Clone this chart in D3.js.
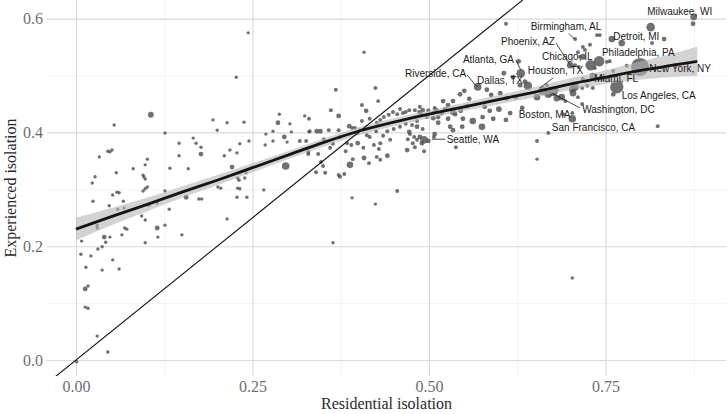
<!DOCTYPE html>
<html><head><meta charset="utf-8">
<script src="https://cdn.jsdelivr.net/npm/d3@7"></script>
<style>body{margin:0;background:#fff}svg{display:block}</style>
</head><body><svg id="c" width="728" height="414"></svg>
<script>
// ---- data ----
const residential = [
0.001,0.008,0.007,0.014,0.021,0.013,0.017,0.013,0.017,0.030,
0.045,0.037,0.052,0.061,0.031,0.037,0.040,0.042,0.048,0.030,
0.030,0.047,0.024,0.065,0.069,0.072,0.098,0.093,0.098,0.115,
0.116,0.126,0.132,0.150,0.214,0.059,0.068,0.103,0.115,0.106,
0.054,0.126,0.146,0.146,0.159,0.045,0.048,0.051,0.033,0.101,
0.098,0.081,0.057,0.133,0.027,0.023,0.095,0.096,0.098,0.101,
0.098,0.095,0.058,0.061,0.052,0.067,0.126,0.156,0.244,0.227,
0.194,0.200,0.214,0.238,0.166,0.170,0.177,0.232,0.245,0.218,
0.177,0.210,0.228,0.221,0.231,0.241,0.229,0.231,0.239,0.229,
0.232,0.201,0.205,0.174,0.178,0.228,0.242,0.288,0.324,0.286,
0.303,0.269,0.279,0.305,0.295,0.279,0.299,0.268,0.330,0.266,
0.297,0.329,0.408,0.368,0.424,0.428,0.361,0.405,0.411,0.372,
0.330,0.449,0.459,0.455,0.463,0.467,0.472,0.480,0.487,0.491,
0.486,0.489,0.499,0.508,0.506,0.497,0.436,0.443,0.431,0.426,
0.416,0.405,0.513,0.483,0.476,0.467,0.483,0.491,0.331,0.341,
0.346,0.358,0.372,0.387,0.391,0.395,0.402,0.399,0.441,0.450,
0.459,0.425,0.412,0.416,0.374,0.351,0.364,0.384,0.399,0.435,
0.431,0.422,0.445,0.473,0.479,0.483,0.470,0.480,0.477,0.493,
0.487,0.499,0.490,0.326,0.317,0.343,0.329,0.360,0.390,0.382,
0.407,0.429,0.469,0.408,0.392,0.426,0.441,0.431,0.415,0.388,
0.347,0.350,0.340,0.372,0.374,0.380,0.353,0.455,0.391,0.424,
0.364,0.493,0.508,0.472,0.506,0.510,0.513,0.518,0.520,0.523,
0.527,0.527,0.530,0.534,0.534,0.534,0.537,0.544,0.545,0.548,
0.550,0.554,0.557,0.562,0.569,0.576,0.579,0.582,0.586,0.588,
0.591,0.599,0.601,0.606,0.609,0.610,0.615,0.619,0.623,0.627,
0.629,0.630,0.632,0.636,0.640,0.653,0.661,0.669,0.676,0.681,
0.688,0.667,0.681,0.547,0.575,0.653,0.669,0.507,0.653,0.538,
0.703,0.609,0.707,0.738,0.742,0.814,0.759,0.773,0.816,0.833,
0.728,0.718,0.721,0.711,0.714,0.741,0.718,0.700,0.707,0.712,
0.729,0.735,0.752,0.756,0.761,0.780,0.799,0.732,0.718,0.724,
0.707,0.717,0.703,0.704,0.732,0.745,0.766,0.761,0.693,0.711,
0.717,0.703,0.690,0.824,0.875,0.874,0.703];
const experienced = [
-0.003,0.209,0.186,0.163,0.183,0.125,0.130,0.093,0.091,0.042,
0.014,0.158,0.176,0.160,0.195,0.199,0.216,0.207,0.216,0.232,
0.237,0.271,0.279,0.220,0.232,0.230,0.206,0.253,0.246,0.232,
0.216,0.237,0.265,0.220,0.248,0.265,0.267,0.272,0.276,0.431,
0.413,0.399,0.381,0.359,0.336,0.367,0.366,0.369,0.357,0.353,
0.343,0.336,0.329,0.337,0.322,0.311,0.325,0.322,0.318,0.304,
0.301,0.297,0.295,0.294,0.290,0.279,0.297,0.286,0.575,0.497,
0.422,0.404,0.417,0.418,0.390,0.381,0.374,0.380,0.385,0.369,
0.362,0.359,0.364,0.339,0.329,0.329,0.320,0.316,0.320,0.302,
0.301,0.304,0.302,0.283,0.283,0.286,0.286,0.432,0.429,0.417,
0.415,0.397,0.402,0.401,0.392,0.385,0.383,0.378,0.401,0.299,
0.341,0.362,0.541,0.475,0.478,0.455,0.439,0.448,0.438,0.429,
0.424,0.436,0.441,0.432,0.434,0.436,0.439,0.439,0.445,0.439,
0.436,0.432,0.439,0.443,0.434,0.427,0.427,0.431,0.422,0.417,
0.424,0.420,0.427,0.420,0.413,0.415,0.410,0.406,0.402,0.402,
0.402,0.404,0.404,0.411,0.408,0.408,0.404,0.399,0.402,0.406,
0.410,0.402,0.395,0.392,0.392,0.388,0.380,0.381,0.381,0.394,
0.381,0.378,0.387,0.397,0.392,0.387,0.388,0.374,0.381,0.387,
0.392,0.385,0.381,0.385,0.385,0.362,0.366,0.373,0.378,0.367,
0.373,0.371,0.369,0.355,0.353,0.357,0.359,0.352,0.346,0.343,
0.348,0.341,0.330,0.325,0.322,0.327,0.329,0.297,0.285,0.274,
0.206,0.367,0.397,0.401,0.425,0.439,0.417,0.434,0.455,0.441,
0.448,0.424,0.410,0.404,0.436,0.455,0.432,0.467,0.438,0.424,
0.473,0.446,0.459,0.420,0.480,0.427,0.445,0.475,0.438,0.466,
0.424,0.441,0.469,0.504,0.422,0.460,0.434,0.497,0.462,0.525,
0.483,0.504,0.443,0.489,0.482,0.462,0.473,0.467,0.471,0.460,
0.462,0.483,0.475,0.410,0.410,0.385,0.399,0.392,0.353,0.374,
0.144,0.591,0.564,0.571,0.571,0.585,0.564,0.557,0.557,0.564,
0.554,0.550,0.545,0.541,0.533,0.525,0.533,0.518,0.518,0.515,
0.518,0.513,0.524,0.525,0.508,0.517,0.515,0.499,0.494,0.482,
0.480,0.478,0.476,0.469,0.478,0.496,0.480,0.467,0.455,0.462,
0.450,0.424,0.432,0.411,0.603,0.591,0.434];
const population = [
2,2,2,2,2,5,2,2,2,2,
2,2,2,2,2,2,5,2,2,2,
2,2,2,2,2,2,2,2,2,5,
2,2,2,2,2,2,2,2,2,8,
2,2,2,2,2,2,2,2,2,2,
2,2,2,2,2,2,2,2,2,2,
2,2,2,2,2,2,2,5,2,2,
2,2,2,2,2,2,2,2,2,2,
5,2,2,5,2,2,2,2,2,2,
2,2,2,2,2,2,2,2,2,5,
2,2,2,2,5,2,2,2,2,2,
15,3,2,3,3,3,3,3,5,5,
3,3,3,3,3,3,3,3,3,5,
3,3,3,3,3,3,3,3,3,3,
3,3,5,3,3,3,5,3,3,5,
5,3,3,5,3,3,3,3,3,3,
3,3,3,3,3,3,3,3,5,3,
3,3,3,3,3,3,3,3,3,15,
5,5,5,3,3,3,3,3,3,3,
3,3,5,5,3,3,5,3,3,11,
3,3,3,3,3,3,3,3,2,2,
2,3,5,5,5,5,5,5,5,5,
5,5,5,5,8,5,5,5,5,5,
5,5,5,11,15,5,5,5,5,5,
5,8,5,5,5,5,5,5,5,5,
5,20,5,5,20,11,20,15,20,11,
11,3,3,5,11,3,3,3,2,3,
2,3,3,3,3,20,11,11,3,5,
3,3,3,3,3,31,8,11,3,3,
31,3,3,3,3,3,100,11,3,3,
15,3,11,11,3,8,52,5,3,3,
3,15,3,3,11,5,3];

// smoothed fit
const fitX  = [0,0.05,0.1,0.15,0.2,0.25,0.3,0.35,0.4,0.45,0.5,0.55,0.6,0.65,0.7,0.75,0.8,0.85,0.88];
const fitY  = [0.230,0.252,0.273,0.295,0.316,0.338,0.360,0.382,0.402,0.418,0.432,0.445,0.458,0.471,0.485,0.497,0.509,0.519,0.525];
const fitLo = [0.210,0.237,0.261,0.285,0.307,0.330,0.353,0.375,0.395,0.411,0.425,0.438,0.450,0.462,0.475,0.485,0.493,0.498,0.499];
const fitHi = [0.250,0.267,0.285,0.305,0.325,0.346,0.367,0.389,0.409,0.425,0.439,0.452,0.466,0.480,0.495,0.509,0.525,0.540,0.551];

const xTicks = [0, 0.25, 0.5, 0.75];
const xMinor = [0.125, 0.375, 0.625, 0.875];
const yTicks = [0, 0.2, 0.4, 0.6];
const yMinor = [0.1, 0.3, 0.5];

const cityNames  = ["Milwaukee, WI","Birmingham, AL","Detroit, MI","Phoenix, AZ","Chicago, IL","Philadelphia, PA","Atlanta, GA","Riverside, CA","Dallas, TX","Houston, TX","Miami, FL","New York, NY","Los Angeles, CA","Washington, DC","Boston, MA","San Francisco, CA","Seattle, WA"];
const cityLabelX = [0.809,0.644,0.761,0.602,0.660,0.745,0.548,0.466,0.568,0.640,0.734,0.812,0.773,0.717,0.627,0.674,0.525];
const cityLabelY = [0.613,0.587,0.569,0.559,0.533,0.541,0.529,0.503,0.492,0.508,0.494,0.513,0.464,0.441,0.432,0.408,0.387];
// leader segments: from (label side) to (point side)
const leaderX1 = [0.698,0.680,0.623,0.554,0.676,0.714,0.504];
const leaderY1 = [0.574,0.557,0.527,0.501,0.496,0.443,0.388];
const leaderX2 = [0.706,0.700,0.630,0.568,0.657,0.674,0.523];
const leaderY2 = [0.564,0.518,0.510,0.480,0.478,0.469,0.388];

const xTitle = "Residential isolation";
const yTitle = "Experienced isolation";

// ---- drawing ----
const L = 47, R = 726, T = 0, B = 376;
const svg = d3.select("#c");
const x = d3.scaleLinear().domain([-0.0411, 0.9207]).range([L, R]);
const y = d3.scaleLinear().domain([-0.0281, 0.6327]).range([B, T]);
const rad = d3.scaleSqrt().domain([0, 100]).range([0.5, 9]);

svg.append("defs").append("clipPath").attr("id","clip")
  .append("rect").attr("x",L).attr("y",T).attr("width",R-L).attr("height",B-T);

const serif = "'Liberation Serif','Times New Roman',serif";
const sans = "'Liberation Sans',Arial,sans-serif";

function styleGrid(g, color, w){
  g.select(".domain").remove();
  g.selectAll(".tick line").attr("stroke", color).attr("stroke-width", w);
}
// minor grid
svg.append("g").attr("transform",`translate(0,${B})`)
  .call(d3.axisBottom(x).tickValues(xMinor).tickSize(-(B-T)).tickFormat(""))
  .call(g=>{styleGrid(g,"#ebebeb",0.6); g.selectAll("text").remove();});
svg.append("g").attr("transform",`translate(${L},0)`)
  .call(d3.axisLeft(y).tickValues(yMinor).tickSize(-(R-L)).tickFormat(""))
  .call(g=>{styleGrid(g,"#ebebeb",0.6); g.selectAll("text").remove();});
// major grid + labels
svg.append("g").attr("transform",`translate(0,${B})`)
  .call(d3.axisBottom(x).tickValues(xTicks).tickSize(-(B-T)).tickPadding(5).tickFormat(d3.format(".2f")))
  .call(g=>{styleGrid(g,"#d9d9d9",1.1);
    g.selectAll("text").attr("font-family",serif).attr("font-size",16).attr("fill","#6e6e6e");});
svg.append("g").attr("transform",`translate(${L},0)`)
  .call(d3.axisLeft(y).tickValues(yTicks).tickSize(-(R-L)).tickPadding(4).tickFormat(d3.format(".1f")))
  .call(g=>{styleGrid(g,"#d9d9d9",1.1);
    g.selectAll("text").attr("font-family",serif).attr("font-size",16).attr("fill","#6e6e6e");});

const plot = svg.append("g").attr("clip-path","url(#clip)");

// points
const idx = d3.range(residential.length);
plot.append("g").selectAll("circle").data(idx).join("circle")
  .attr("cx", i=>x(residential[i])).attr("cy", i=>y(experienced[i]))
  .attr("r", i=>rad(population[i]))
  .attr("fill","#505050").attr("fill-opacity",0.82);

// confidence band
const fi = d3.range(fitX.length);
plot.append("path").datum(fi)
  .attr("d", d3.area().x(i=>x(fitX[i])).y0(i=>y(fitLo[i])).y1(i=>y(fitHi[i])).curve(d3.curveMonotoneX))
  .attr("fill","#b5b5b5").attr("fill-opacity",0.6);
// fit line
plot.append("path").datum(fi)
  .attr("d", d3.line().x(i=>x(fitX[i])).y(i=>y(fitY[i])).curve(d3.curveMonotoneX))
  .attr("fill","none").attr("stroke","#151515").attr("stroke-width",2.8);

// 45-degree line
const diag = x.domain();
plot.append("line")
  .attr("x1", x(diag[0])).attr("y1", y(diag[0]))
  .attr("x2", x(0.6327)).attr("y2", y(0.6327))
  .attr("stroke","#111").attr("stroke-width",1.1);

// leaders
const li = d3.range(leaderX1.length);
plot.append("g").selectAll("line").data(li).join("line")
  .attr("x1",i=>x(leaderX1[i])).attr("y1",i=>y(leaderY1[i]))
  .attr("x2",i=>x(leaderX2[i])).attr("y2",i=>y(leaderY2[i]))
  .attr("stroke","#1a1a1a").attr("stroke-width",0.8);

// labels
svg.append("g").selectAll("text").data(d3.range(cityNames.length)).join("text")
  .attr("x",i=>x(cityLabelX[i])).attr("y",i=>y(cityLabelY[i])).attr("dy","0.35em")
  .attr("font-family",sans).attr("font-size",10).attr("fill","#1a1a1a")
  .text(i=>cityNames[i]);

// axis titles
svg.append("text").attr("x",(L+R)/2).attr("y",409).attr("text-anchor","middle")
  .attr("font-family",serif).attr("font-size",16).attr("fill","#2a2a2a").text(xTitle);
svg.append("text").attr("transform",`translate(15.5,${(T+B)/2}) rotate(-90)`).attr("text-anchor","middle")
  .attr("font-family",serif).attr("font-size",16).attr("fill","#2a2a2a").text(yTitle);
</script></body></html>
